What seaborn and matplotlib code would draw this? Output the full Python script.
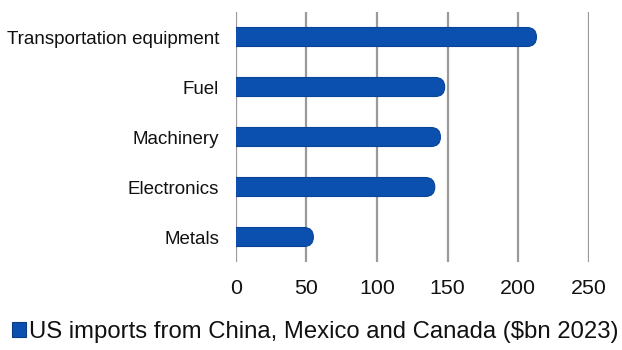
import matplotlib
matplotlib.use("Agg")
import matplotlib.pyplot as plt
import seaborn as sns
import pandas as pd
from matplotlib.patches import FancyBboxPatch, Patch

categories = ["Transportation equipment", "Fuel", "Machinery", "Electronics", "Metals"]
values = [213, 148, 145, 141, 55]
series_name = "US imports from China, Mexico and Canada ($bn 2023)"
xticks = [0, 50, 100, 150, 200, 250]

df = pd.DataFrame({"category": categories, "value": values})

sns.set_theme(style="white")
plt.rcParams['font.family'] = ['Liberation Sans', 'DejaVu Sans']

fig = plt.figure(figsize=(6.22, 3.5), dpi=100)
W, H = 622, 350
left_px, right_px, top_px, bot_px = 235.7, 588.7, 12, 262
ax = fig.add_axes([left_px / W, 1 - bot_px / H, (right_px - left_px) / W, (bot_px - top_px) / H])

bar_w = 0.38
color = "#0B50AE"
sns.barplot(data=df, x="value", y="category", orient="h", color=color,
            width=bar_w, ax=ax, saturation=1)

ax.set_xlim(0, 250)
ax.set_ylim(len(categories) - 0.5, -0.5)

# replace rectangles with rounded-end bars
px_x = (right_px - left_px) / 250.0
px_y = (bot_px - top_px) / len(categories)
aspect = px_x / px_y
rects = list(ax.patches)
for p in rects:
    x0, y0 = p.get_x(), p.get_y()
    w, h = p.get_width(), p.get_height()
    r = (h / aspect) / 2.0
    p.remove()
    fb = FancyBboxPatch((x0 - r, y0), w + r, h,
                        boxstyle=f"round,pad=0,rounding_size={r}",
                        mutation_aspect=aspect,
                        facecolor=color, edgecolor="#0A4496", linewidth=0.8,
                        zorder=3)
    ax.add_patch(fb)

ax.set_xticks(xticks)
ax.set_xticklabels([str(t) for t in xticks], fontsize=15.4)
ax.tick_params(axis="y", labelsize=13.5, length=0, pad=12)
ax.tick_params(axis="x", length=0, pad=12.5)
for lab in ax.get_yticklabels():
    lab.set_color("#111111")
for lab in ax.get_xticklabels():
    lab.set_color("#111111")
ax.set_xlabel("")
ax.set_ylabel("")
ax.grid(axis="x", color="#9a9a9a", linewidth=1.6, zorder=0)
ax.grid(axis="y", visible=False)
ax.set_axisbelow(True)
for s in ax.spines.values():
    s.set_visible(False)

handle = Patch(facecolor=color, edgecolor="#0A3C86", linewidth=0.8)
fig.legend([handle], [series_name], loc="center left",
           bbox_to_anchor=(12 / W, 1 - 332 / H), frameon=False,
           fontsize=17.2, handlelength=0.6, handleheight=0.6,
           handletextpad=0.12, borderaxespad=0, borderpad=0,
           labelcolor="#111111")

fig.savefig("out.png", dpi=100)
